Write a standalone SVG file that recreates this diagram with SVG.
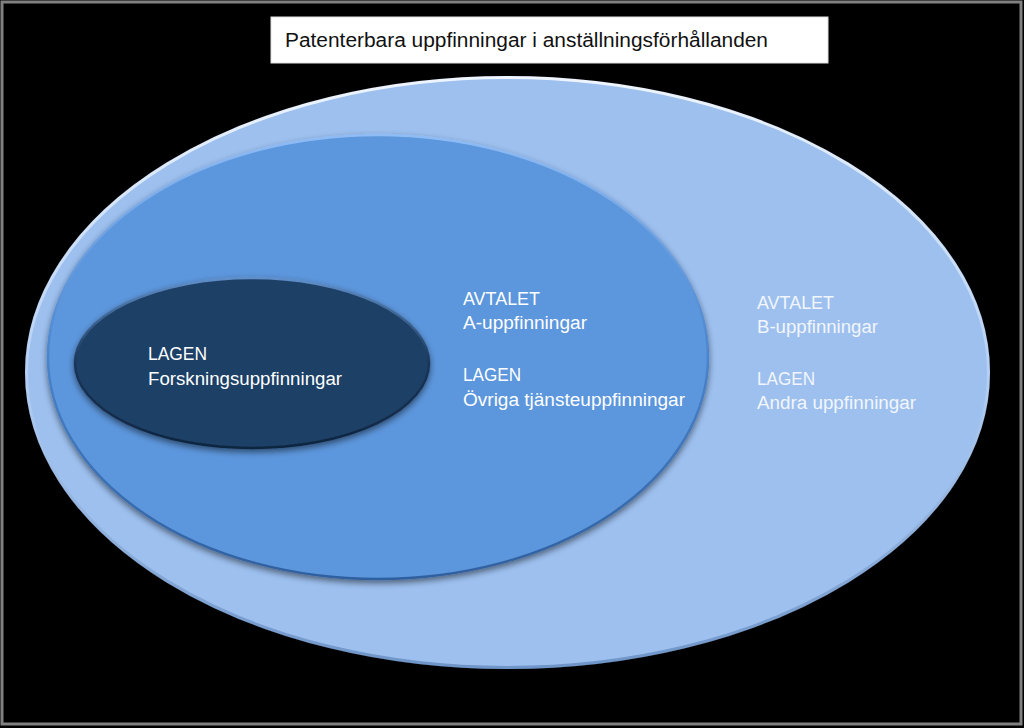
<svg xmlns="http://www.w3.org/2000/svg" width="1024" height="728" viewBox="0 0 1024 728">
<defs>
<style>
.lbl{font-family:"Liberation Sans",Arial,sans-serif;font-size:18px;fill:#ffffff}
.lbl2{font-family:"Liberation Sans",Arial,sans-serif;font-size:18px;fill:#f2f6fc}
.title{font-family:"Liberation Sans",Arial,sans-serif;font-size:19.5px;fill:#111111}
</style>
<filter id="sh" x="-10%" y="-10%" width="120%" height="125%">
<feGaussianBlur in="SourceAlpha" stdDeviation="3"/>
<feOffset dx="0" dy="3" result="b"/>
<feComponentTransfer><feFuncA type="linear" slope="0.5"/></feComponentTransfer>
<feMerge><feMergeNode/><feMergeNode in="SourceGraphic"/></feMerge>
</filter>
<linearGradient id="rimOuter" x1="0" y1="0" x2="0" y2="1">
<stop offset="0" stop-color="#eef5ff"/>
<stop offset="0.5" stop-color="#b5d0f4"/>
<stop offset="1" stop-color="#6f95c8"/>
</linearGradient>
<linearGradient id="rimMid" x1="0" y1="0" x2="0" y2="1">
<stop offset="0" stop-color="#8fbcf5"/>
<stop offset="0.5" stop-color="#4a84cc"/>
<stop offset="1" stop-color="#2f5f9e"/>
</linearGradient>
<linearGradient id="rimIn" x1="0" y1="0" x2="0" y2="1">
<stop offset="0" stop-color="#5f8fc9"/>
<stop offset="0.5" stop-color="#1a3557"/>
<stop offset="1" stop-color="#0f2540"/>
</linearGradient>
</defs>
<rect x="0" y="0" width="1024" height="728" fill="#000000"/>
<rect x="2" y="2" width="1019" height="722" fill="none" stroke="#808080" stroke-width="3"/>
<g id="title">
<rect x="271" y="17" width="557" height="46" fill="#ffffff" stroke="#e0e0e0" stroke-width="1"/>
<text class="title" x="285" y="47" textLength="483" lengthAdjust="spacingAndGlyphs">Patenterbara uppfinningar i anställningsförhållanden</text>
</g>
<g id="outer">
<ellipse cx="507.5" cy="372.5" rx="481" ry="295" fill="#9dc0ef" stroke="url(#rimOuter)" stroke-width="3" filter="url(#sh)"/>
<text class="lbl2" x="757" y="309" textLength="77" lengthAdjust="spacingAndGlyphs">AVTALET</text>
<text class="lbl2" x="757" y="333" textLength="121" lengthAdjust="spacingAndGlyphs">B-uppfinningar</text>
<text class="lbl2" x="757" y="385" textLength="58" lengthAdjust="spacingAndGlyphs">LAGEN</text>
<text class="lbl2" x="757" y="409" textLength="159" lengthAdjust="spacingAndGlyphs">Andra uppfinningar</text>
</g>
<g id="middle">
<ellipse cx="378" cy="357" rx="330" ry="222" fill="#5b96dc" stroke="url(#rimMid)" stroke-width="2.5" filter="url(#sh)"/>
<text class="lbl" x="463" y="305" textLength="77" lengthAdjust="spacingAndGlyphs">AVTALET</text>
<text class="lbl" x="463" y="329" textLength="124" lengthAdjust="spacingAndGlyphs">A-uppfinningar</text>
<text class="lbl" x="463" y="381" textLength="58" lengthAdjust="spacingAndGlyphs">LAGEN</text>
<text class="lbl" x="463" y="406" textLength="222" lengthAdjust="spacingAndGlyphs">Övriga tjänsteuppfinningar</text>
</g>
<g id="inner">
<ellipse cx="252" cy="363" rx="177" ry="85" fill="#1f3f66" stroke="url(#rimIn)" stroke-width="2.5" filter="url(#sh)"/>
<text class="lbl" x="148" y="360" textLength="59" lengthAdjust="spacingAndGlyphs">LAGEN</text>
<text class="lbl" x="148" y="385" textLength="194" lengthAdjust="spacingAndGlyphs">Forskningsuppfinningar</text>
</g>
<g id="connectors"/>
</svg>
